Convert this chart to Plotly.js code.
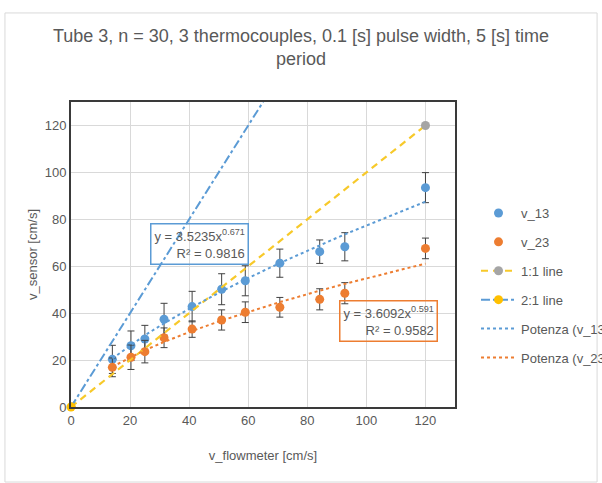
<!DOCTYPE html>
<html>
<head>
<meta charset="utf-8">
<script src="https://cdn.plot.ly/plotly-3.0.1.min.js"></script>
<style>html,body{margin:0;padding:0;background:#fff;}#chart{width:602px;height:483px;}</style>
</head>
<body>
<div id="chart"></div>
<script>
// ---- data ----
const flowX   = [14, 20.3, 25, 31.5, 41, 51, 59, 70.7, 84.2, 92.7, 120];
const v13     = [20.3, 26.1, 29.0, 37.4, 42.8, 50.2, 53.8, 61.3, 66.2, 68.3, 93.5];
const v13Err  = [6, 6.3, 5.8, 6.8, 6.5, 6.6, 6.4, 6, 5, 6, 6.4];
const v23     = [16.9, 21.2, 23.6, 29.5, 33.2, 37.1, 40.4, 42.5, 45.9, 48.5, 67.6];
const v23Err  = [4, 5.2, 4.8, 4.2, 3.5, 4.3, 4.4, 4.2, 4.5, 4.5, 4.4];
const line11X = [0, 120];
const line11Y = [0, 120];
const line21X = [0, 70];
const line21Y = [0, 140];
const fit13 = {a: 3.5235, b: 0.671, r2: '0.9816'};
const fit23 = {a: 3.6092, b: 0.591, r2: '0.9582'};
const seriesNames = ['v_13', 'v_23', '1:1 line', '2:1 line', 'Potenza (v_13)', 'Potenza (v_23)'];
const xTicks = [0, 20, 40, 60, 80, 100, 120];
const yTicks = [0, 20, 40, 60, 80, 100, 120];
const titleText = 'Tube 3, n = 30, 3 thermocouples, 0.1 [s] pulse width, 5 [s] time<br>period';

const BLUE = '#5B9BD5', ORANGE = '#ED7D31', GRAY = '#A5A5A5', GOLD = '#FFC000', YEL = '#F7C92A';
const FONT = '"Liberation Sans", Arial, sans-serif';
const TXT = '#595959';

const powFit = (f) => flowX.map(x => f.a * Math.pow(x, f.b));

const errStyle = (arr) => ({type: 'data', array: arr, visible: true, color: '#404040', thickness: 1, width: 3.5});

const traces = [
  {x: flowX, y: v13, name: seriesNames[0], type: 'scatter', mode: 'markers',
   marker: {color: BLUE, size: 9}, error_y: errStyle(v13Err), legendgroup: 'a'},
  {x: flowX, y: v23, name: seriesNames[1], type: 'scatter', mode: 'markers',
   marker: {color: ORANGE, size: 9}, error_y: errStyle(v23Err), legendgroup: 'b'},
  {x: line11X, y: line11Y, name: seriesNames[2], type: 'scatter', mode: 'lines+markers',
   line: {color: YEL, width: 2.2, dash: '7px,5px'}, marker: {color: GRAY, size: 9}, legendgroup: 'c'},
  {x: line21X, y: line21Y, name: seriesNames[3], type: 'scatter', mode: 'lines+markers',
   line: {color: BLUE, width: 2, dash: 'dashdot'}, marker: {color: GOLD, size: 9}, legendgroup: 'd'},
  {x: flowX, y: powFit(fit13), name: seriesNames[4], type: 'scatter', mode: 'lines',
   line: {color: BLUE, width: 2, dash: 'dot'}, legendgroup: 'e'},
  {x: flowX, y: powFit(fit23), name: seriesNames[5], type: 'scatter', mode: 'lines',
   line: {color: ORANGE, width: 2, dash: 'dot'}, legendgroup: 'f'},
  // origin marker of the 2:1 line drawn unclipped on top
  {x: [line21X[0]], y: [line21Y[0]], type: 'scatter', mode: 'markers', showlegend: false,
   marker: {color: GOLD, size: 9}, cliponaxis: false, hoverinfo: 'skip'}
];

const layout = {
  width: 602, height: 483,
  margin: {l: 71, r: 147, t: 102, b: 76, autoexpand: false},
  paper_bgcolor: '#fff', plot_bgcolor: '#fff',
  font: {family: FONT, color: TXT, size: 13},
  title: {text: titleText, font: {family: FONT, size: 18, color: TXT},
          x: 0.5, xref: 'container', xanchor: 'center', y: 0.914, yref: 'container', yanchor: 'top'},
  xaxis: {range: [0, 130], tickvals: xTicks, ticktext: xTicks.map(String),
          showgrid: true, gridcolor: '#D9D9D9', gridwidth: 1, zeroline: false,
          showline: true, mirror: true, linecolor: '#3a3a3a', linewidth: 2, ticks: '',
          tickfont: {family: FONT, size: 13, color: TXT},
          title: {text: 'v_flowmeter [cm/s]', font: {family: FONT, size: 13, color: TXT}, standoff: 24}},
  yaxis: {range: [0, 130], tickvals: yTicks, ticktext: yTicks.map(String),
          showgrid: true, gridcolor: '#D9D9D9', gridwidth: 1, zeroline: false,
          showline: true, mirror: true, linecolor: '#3a3a3a', linewidth: 2, ticks: '',
          tickfont: {family: FONT, size: 13, color: TXT},
          title: {text: 'v_sensor [cm/s]', font: {family: FONT, size: 13, color: TXT}, standoff: 4}},
  legend: {x: 476 / 602, xref: 'container', xanchor: 'left', y: 1 - 198 / 483, yref: 'container', yanchor: 'top',
           itemwidth: 35, tracegroupgap: 9, font: {family: FONT, size: 13, color: TXT}, bgcolor: 'rgba(0,0,0,0)'},
  showlegend: true,
  annotations: [
    {x: 43.5, y: 69.5, xref: 'x', yref: 'y', showarrow: false,
     text: 'y = ' + fit13.a + 'x<sup>' + fit13.b + '</sup><br>R² = ' + fit13.r2,
     align: 'right', font: {family: FONT, size: 13, color: TXT},
     bordercolor: BLUE, borderwidth: 1.5, borderpad: 3},
    {x: 107.5, y: 36.5, xref: 'x', yref: 'y', showarrow: false,
     text: 'y = ' + fit23.a + 'x<sup>' + fit23.b + '</sup><br>R² = ' + fit23.r2,
     align: 'right', font: {family: FONT, size: 13, color: TXT},
     bordercolor: ORANGE, borderwidth: 1.5, borderpad: 3}
  ],
  shapes: [
    {type: 'rect', xref: 'paper', yref: 'paper', x0: -0.172, x1: 1.37, y0: -0.246, y1: 1.292,
     line: {color: '#D9D9D9', width: 1}, fillcolor: 'rgba(0,0,0,0)', layer: 'below'}
  ]
};

Plotly.newPlot('chart', traces, layout, {staticPlot: true, displayModeBar: false});
</script>
</body>
</html>
